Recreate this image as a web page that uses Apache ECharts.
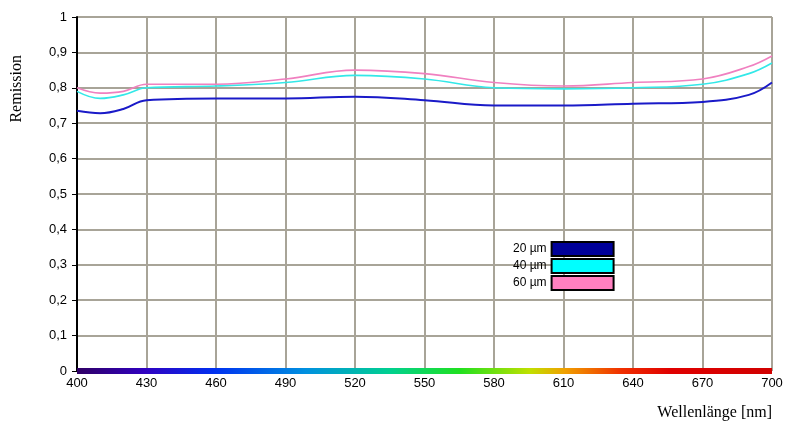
<!DOCTYPE html>
<html><head><meta charset="utf-8">
<script src="https://cdn.jsdelivr.net/npm/echarts@6/dist/echarts.min.js"></script>
<style>html,body{margin:0;background:#fff}#c{width:800px;height:435px}</style></head>
<body><div id="c"></div>
<script>
const wavelengths = [400,410,420,430,460,490,520,550,580,610,640,670,690,700];
const s20 = [0.735,0.728,0.74,0.765,0.77,0.77,0.775,0.765,0.75,0.75,0.755,0.76,0.78,0.815];
const s40 = [0.79,0.77,0.78,0.80,0.805,0.815,0.835,0.825,0.80,0.797,0.80,0.81,0.84,0.87];
const s60 = [0.80,0.785,0.79,0.81,0.81,0.825,0.85,0.84,0.815,0.805,0.815,0.825,0.86,0.89];
const names = ['20 µm','40 µm','60 µm'];
const colors = ['#1a1ac8','#33e8e8','#f080c0'];
const legendColors = ['#000099','#00ffff','#ff80c0'];
const pair = a => a.map((v,i)=>[wavelengths[i],v]);
const chart = echarts.init(document.getElementById('c'));
const series = [s20,s40,s60].map((d,i)=>({
  name:names[i], type:'line', smooth:0.4, showSymbol:false, data:pair(d),
  lineStyle:{color:colors[i], width:i===0?2:1.6}, itemStyle:{color:legendColors[i], borderColor:'#000', borderWidth:1.5}, z:3
}));
series.push({type:'line', silent:true, showSymbol:false, data:[[400,0],[700,0]], z:4,
  lineStyle:{width:6, color:new echarts.graphic.LinearGradient(0,0,1,0,[
    {offset:0,color:'#300060'},{offset:0.1,color:'#3000c0'},{offset:0.2,color:'#0030f0'},{offset:0.33,color:'#0090e0'},
    {offset:0.45,color:'#00d090'},{offset:0.55,color:'#20e020'},{offset:0.65,color:'#c0e000'},{offset:0.7,color:'#f0a000'},
    {offset:0.78,color:'#f03000'},{offset:0.85,color:'#e00000'},{offset:1,color:'#d00000'}])}});
chart.setOption({
  animation:false,
  grid:{left:77,right:28,top:17,bottom:64},
  legend:{data:names, orient:'vertical', left:508, top:236, align:'right', icon:'rect', itemWidth:62, itemHeight:14, itemGap:1,
    textStyle:{fontFamily:'Arial, Liberation Sans',fontSize:12,color:'#000'}},
  xAxis:{type:'value', min:400, max:700, interval:30,
    name:'Wellenlänge [nm]', nameLocation:'end', nameGap:0,
    nameTextStyle:{fontFamily:'Liberation Serif',fontSize:16,color:'#000',align:'right',verticalAlign:'top',padding:[34,0,0,0]},
    axisLine:{show:false}, axisTick:{show:false},
    axisLabel:{fontFamily:'Liberation Sans',fontSize:13,color:'#000',margin:6},
    splitLine:{lineStyle:{color:'#a8a498',width:2}}},
  yAxis:{type:'value', min:0, max:1, interval:0.1,
    name:'Remission', nameLocation:'end', nameRotate:90, nameGap:0,
    nameTextStyle:{fontFamily:'Liberation Serif',fontSize:16,color:'#000',align:'right',verticalAlign:'bottom',padding:[0,38,52,0]},
    axisLine:{show:true,lineStyle:{color:'#000',width:2}}, axisTick:{show:true,length:5,lineStyle:{color:'#000'}},
    axisLabel:{fontFamily:'Liberation Sans',fontSize:13,color:'#000',margin:10,formatter:v=>v===0?'0':v===1?'1':v.toFixed(1).replace('.',',')},
    splitLine:{lineStyle:{color:'#a8a498',width:2}}},
  series
});
</script></body></html>
